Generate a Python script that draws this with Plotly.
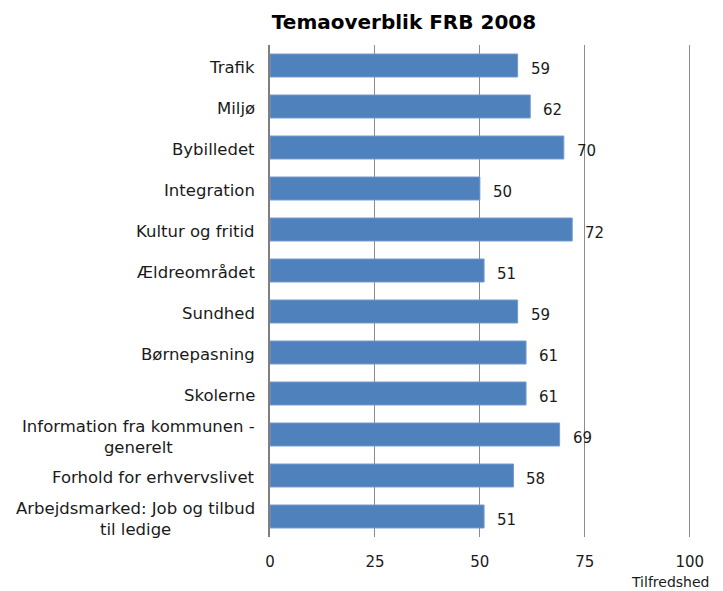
import plotly.graph_objects as go

# Satisfaction scores per theme, FRB 2008
categories = [
    "Trafik",
    "Miljø",
    "Bybilledet",
    "Integration",
    "Kultur og fritid",
    "Ældreområdet",
    "Sundhed",
    "Børnepasning",
    "Skolerne",
    "Information fra kommunen -<br>generelt",
    "Forhold for erhvervslivet",
    "Arbejdsmarked: Job og tilbud<br>til ledige",
]
scores = [59, 62, 70, 50, 72, 51, 59, 61, 61, 69, 58, 51]
x_ticks = [0, 25, 50, 75, 100]

FONT = "DejaVu Sans"
BAR = "#4F81BD"
GRID = "#8C8C8C"

# the page body adds an 8px offset, so the figure is 8px smaller each way
W, H = 715, 583
fig = go.Figure()

fig.add_trace(
    go.Bar(
        x=scores,
        y=list(range(len(categories))),
        orientation="h",
        marker=dict(color=BAR, line=dict(color="#7399C9", width=1)),
        width=0.56,
        hoverinfo="x",
        showlegend=False,
    )
)

# value labels, just right of each bar
for i, v in enumerate(scores):
    fig.add_annotation(
        x=v, y=i, text=str(v), showarrow=False,
        xanchor="left", xshift=11, yshift=-3,
        font=dict(family=FONT, size=15, color="#1a1a1a"),
    )

# category labels, centred lines, right-anchored at the axis
for i, c in enumerate(categories):
    fig.add_annotation(
        x=0, xref="paper", y=i, text=c, showarrow=False,
        xanchor="right", xshift=-13, yshift=-2, align="center",
        font=dict(family=FONT, size=16.5, color="#1a1a1a"),
    )

fig.add_annotation(
    x=1, xref="paper", xanchor="right", xshift=20,
    y=-0.092, yref="paper", yanchor="middle",
    text="Tilfredshed", showarrow=False,
    font=dict(family=FONT, size=14, color="#1a1a1a"),
)

fig.update_layout(
    width=W,
    height=H,
    title=dict(
        text="<b>Temaoverblik FRB 2008</b>",
        x=396 / W, xanchor="center",
        y=1 - 14 / H, yanchor="middle",
        font=dict(family=FONT, size=20, color="#000000"),
    ),
    plot_bgcolor="white",
    paper_bgcolor="white",
    margin=dict(l=262, r=32, t=37, b=54),
    bargap=0.44,
)
fig.update_xaxes(
    range=[0, 100.3],
    tickvals=x_ticks,
    showgrid=True, gridcolor=GRID, gridwidth=1,
    zeroline=False, showline=False,
    ticks="", ticklabelstandoff=14,
    tickfont=dict(family=FONT, size=15, color="#1a1a1a"),
    fixedrange=True,
)
fig.update_yaxes(
    range=[len(categories) - 0.5, -0.5],
    showticklabels=False,
    showgrid=False, zeroline=False,
    showline=True, linecolor="#7F7F7F", linewidth=1.5,
    fixedrange=True,
)

fig.write_html("out.html")
